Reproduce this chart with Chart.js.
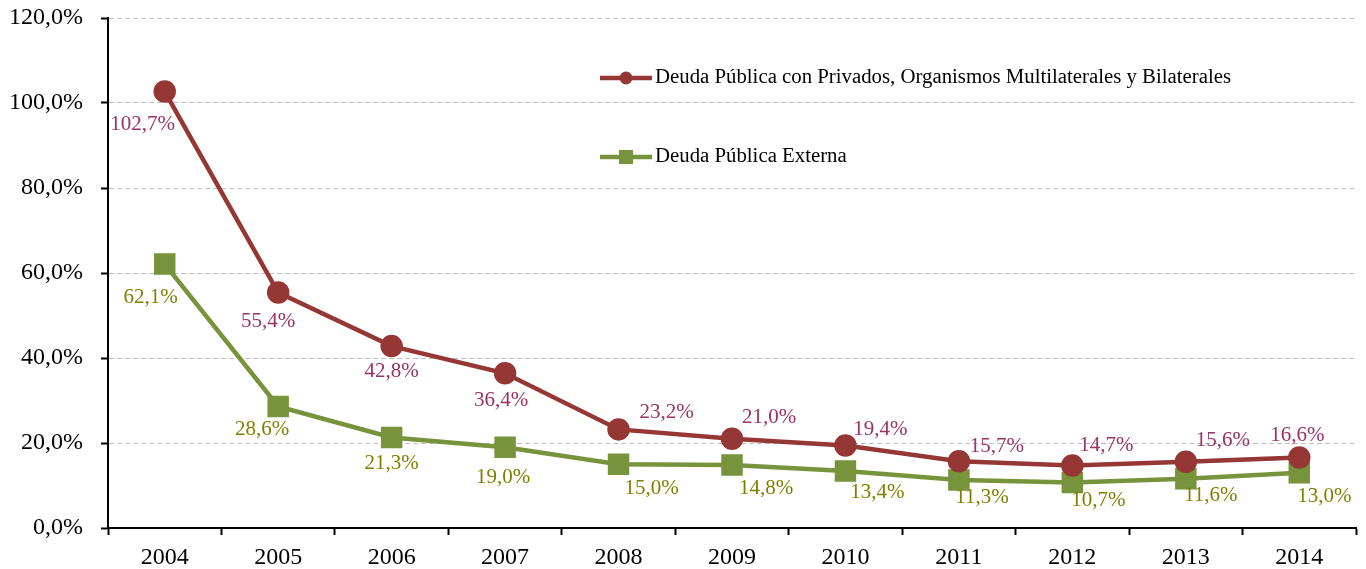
<!DOCTYPE html>
<html lang="es">
<head>
<meta charset="UTF-8">
<title>Deuda Pública</title>
<script src="https://cdn.jsdelivr.net/npm/chart.js"></script>
<style>
    body { margin: 0; padding: 0; background: #ffffff; }
    .chart-container { width: 1366px; height: 569px; }
</style>
</head>
<body>
<div class="chart-container">
    <canvas id="deudaChart"></canvas>
</div>
<script>
    const years = ['2004', '2005', '2006', '2007', '2008', '2009', '2010', '2011', '2012', '2013', '2014'];
    const deudaPrivados = [102.7, 55.4, 42.8, 36.4, 23.2, 21.0, 19.4, 15.7, 14.7, 15.6, 16.6];
    const deudaExterna = [62.1, 28.6, 21.3, 19.0, 15.0, 14.8, 13.4, 11.3, 10.7, 11.6, 13.0];
    const yMax = 120;
    const yStep = 20;

    // where each value label sits relative to its point (px)
    const privadosLabelOffset = [[-22, 33], [-10, 29], [0, 25], [-4, 27], [48, -17], [37, -21], [35, -16], [38, -15], [34, -20], [37, -21], [-2, -22]];
    const externaLabelOffset = [[-14, 33], [-16, 23], [0, 26], [-2, 30], [33, 24], [34, 23], [32, 21], [23, 18], [26, 18], [25, 17], [25, 24]];

    const serif = "'Liberation Serif', 'Times New Roman', serif";
    const fmt = v => v.toFixed(1).replace('.', ',') + '%';

    const valueLabels = {
        id: 'valueLabels',
        afterDatasetsDraw(chart) {
            const ctx = chart.ctx;
            ctx.save();
            ctx.font = '21px ' + serif;
            ctx.textAlign = 'center';
            ctx.textBaseline = 'middle';
            chart.data.datasets.forEach((ds, i) => {
                const meta = chart.getDatasetMeta(i);
                ctx.fillStyle = ds.labelColor;
                meta.data.forEach((pt, j) => {
                    const off = ds.labelOffset[j];
                    ctx.fillText(fmt(ds.data[j]), pt.x + off[0], pt.y + off[1]);
                });
            });
            ctx.restore();
        }
    };

    const insideLegend = {
        id: 'insideLegend',
        afterDraw(chart) {
            const ctx = chart.ctx;
            const rows = [78, 157];
            ctx.save();
            ctx.font = '20.8px ' + serif;
            ctx.textBaseline = 'middle';
            chart.data.datasets.forEach((ds, i) => {
                const y = rows[i];
                ctx.strokeStyle = ds.borderColor;
                ctx.lineWidth = 4.5;
                ctx.beginPath();
                ctx.moveTo(600, y);
                ctx.lineTo(652, y);
                ctx.stroke();
                ctx.fillStyle = ds.borderColor;
                if (ds.pointStyle === 'rect') {
                    ctx.fillRect(619, y - 7, 14, 14);
                } else {
                    ctx.beginPath();
                    ctx.arc(626, y, 6.5, 0, Math.PI * 2);
                    ctx.fill();
                }
                ctx.fillStyle = '#000000';
                ctx.fillText(ds.label, 655, y);
            });
            ctx.restore();
        }
    };

    new Chart(document.getElementById('deudaChart'), {
        type: 'line',
        data: {
            labels: years,
            datasets: [{
                label: 'Deuda Pública con Privados, Organismos Multilaterales y Bilaterales',
                data: deudaPrivados,
                borderColor: '#953735',
                backgroundColor: '#953735',
                borderWidth: 4.5,
                pointStyle: 'circle',
                pointRadius: 9,
                pointHoverRadius: 9,
                labelColor: '#993366',
                labelOffset: privadosLabelOffset
            }, {
                label: 'Deuda Pública Externa',
                data: deudaExterna,
                borderColor: '#77933C',
                backgroundColor: '#77933C',
                borderWidth: 4.5,
                pointStyle: 'rect',
                pointRadius: 12,
                pointHoverRadius: 12,
                labelColor: '#808000',
                labelOffset: externaLabelOffset
            }]
        },
        options: {
            responsive: true,
            maintainAspectRatio: false,
            animation: false,
            layout: { autoPadding: false, padding: { top: 18, right: 10, left: 0, bottom: 0 } },
            plugins: {
                legend: { display: false },
                tooltip: { enabled: false }
            },
            scales: {
                x: {
                    offset: true,
                    afterFit: s => { s.height = 41; s.paddingLeft = 0; s.paddingRight = 0; },
                    border: { color: '#000000', width: 2 },
                    grid: {
                        offset: true,
                        drawOnChartArea: false,
                        drawTicks: true,
                        tickLength: 7,
                        tickColor: '#000000',
                        tickWidth: 2
                    },
                    ticks: {
                        color: '#000000',
                        font: { family: serif, size: 24 },
                        padding: 8
                    }
                },
                y: {
                    min: 0,
                    max: yMax,
                    afterFit: s => { s.width = 108; s.paddingTop = 0; s.paddingBottom = 0; },
                    border: { color: '#000000', width: 2, dash: [5, 3] },
                    grid: {
                        color: ctx => ctx.tick.value === 0 ? 'rgba(0,0,0,0)' : '#BFBFBF',
                        lineWidth: 1,
                        tickLength: 7,
                        tickColor: '#000000',
                        tickWidth: 2,
                        tickBorderDash: []
                    },
                    ticks: {
                        stepSize: yStep,
                        color: '#000000',
                        font: { family: serif, size: 24 },
                        padding: 18,
                        callback: v => fmt(v)
                    }
                }
            }
        },
        plugins: [valueLabels, insideLegend]
    });
</script>
</body>
</html>
